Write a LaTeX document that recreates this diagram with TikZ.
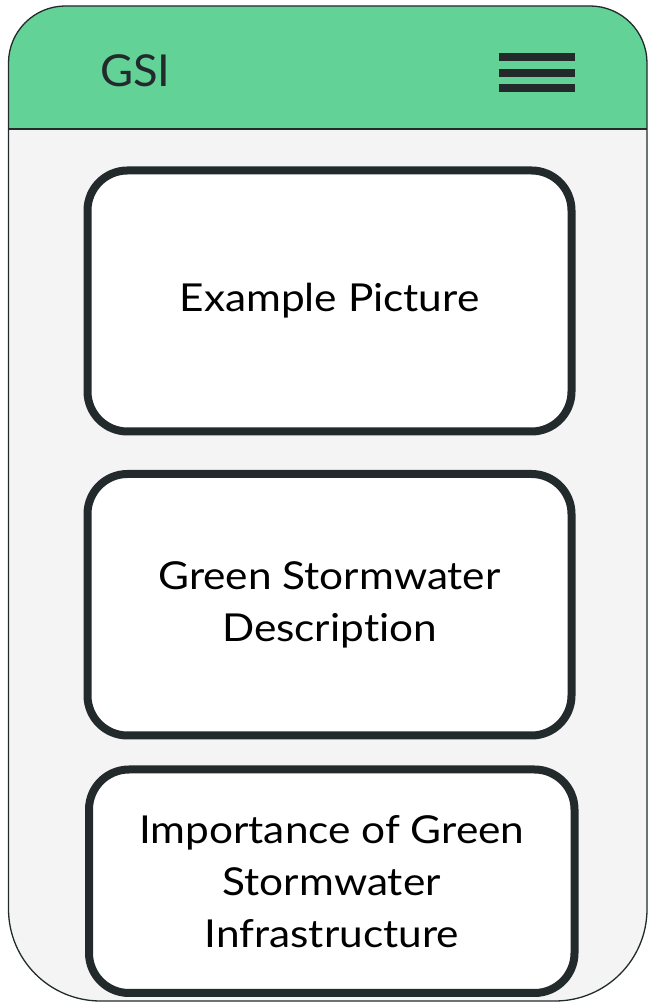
\documentclass[tikz,border=0pt]{standalone}
\usepackage{fontspec}
\setmainfont{Lato}[FakeStretch=1.1, Ligatures={NoCommon}]
\newfontfamily\titlefont{Lato}[FakeStretch=1.03]
\definecolor{hdrgreen}{HTML}{63D297}
\definecolor{ink}{HTML}{222A2B}
\definecolor{pagebg}{HTML}{F4F4F4}
\begin{document}
\begin{tikzpicture}[x=1pt,y=1pt,
  card/.style={draw=ink, line width=8pt, fill=white, rounded corners=40pt, inner sep=0pt,
    align=center, text=black, font=\fontsize{38.5}{52}\selectfont},
  bar/.style={fill=ink, draw=none}]
\useasboundingbox (0,0) rectangle (648,1003);
\def\framepath{(8.5,94) -- (8.5,940) arc[start angle=180,end angle=90,radius=57] -- (590,997) arc[start angle=90,end angle=0,radius=57] -- (647,94) arc[start angle=0,end angle=-90,radius=92] -- (100.5,2) arc[start angle=270,end angle=180,radius=92] -- cycle}
\fill[pagebg] \framepath;
\begin{scope}
  \clip \framepath;
  \fill[hdrgreen] (0,874) rectangle (648,1003);
\end{scope}
\draw[ink, line width=1.5pt] (8.5,874) -- (647,874);
\draw[ink, line width=1.3pt] \framepath;
\node[anchor=base west, text=ink, font=\titlefont\fontsize{44}{52}\selectfont, inner sep=0pt] (title) at (100,916) {GSI};
\fill[bar] (499,942) rectangle (575,950);
\fill[bar] (499,926) rectangle (575,934);
\fill[bar] (499,911) rectangle (575,919);
\node[card, minimum width=484pt, minimum height=261pt] (pic) at (329.5,702) {Example Picture};
\node[card, minimum width=484pt, minimum height=261.5pt] (desc) at (329.5,398.25) {Green Stormwater\\Description};
\node[card, minimum width=485.5pt, minimum height=223.5pt] (imp) at (331.75,121.75) {Importance of Green\\Stormwater\\Infrastructure};
\end{tikzpicture}
\end{document}
